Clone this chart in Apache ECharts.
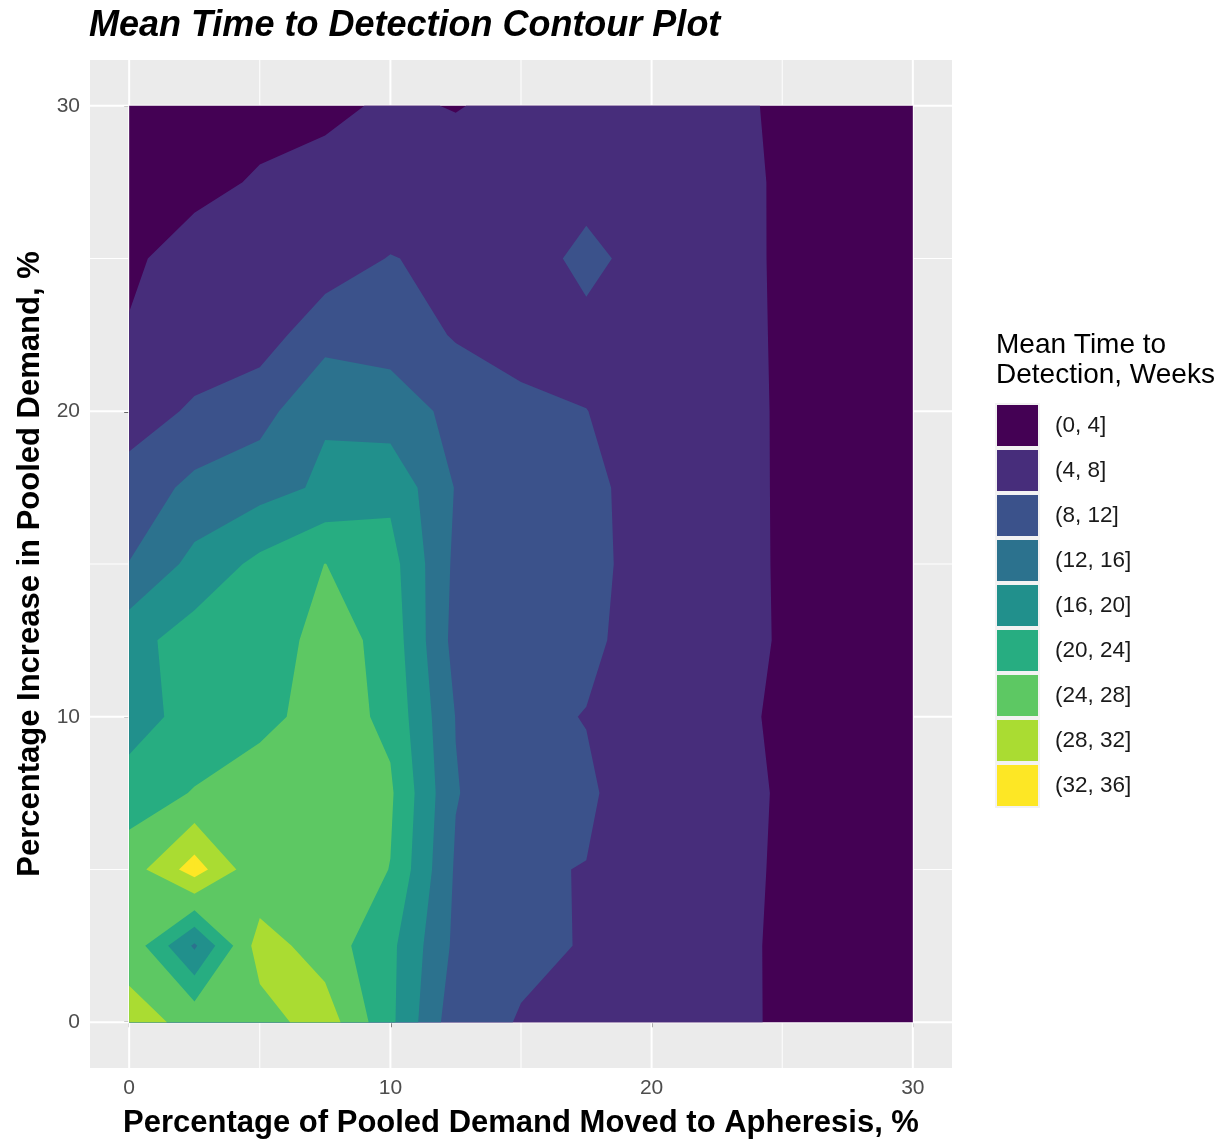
<!DOCTYPE html>
<html>
<head>
<meta charset="utf-8">
<script src="https://cdn.jsdelivr.net/npm/echarts@6/dist/echarts.min.js"></script>
<style>
html,body{margin:0;padding:0;background:#ffffff;}
#chart{width:1227px;height:1144px;}
</style>
</head>
<body>
<div id="chart"></div>
<script>
// Grid coordinates (percent)
const xValues = [0, 2.5, 5, 7.5, 10, 12.5, 15, 17.5, 20, 22.5, 25, 27.5, 30];
const yValues = [0, 2.5, 5, 7.5, 10, 12.5, 15, 17.5, 20, 22.5, 25, 27.5, 30];

// Mean time to detection (weeks), one array per y row, values along x
const z_y0    = [29.1, 27.2, 26.1, 30.2, 20.9, 9.4, 7.8, 7.0, 6.5, 6.5, 2.93, 2.6, 2.5];
const z_y2_5  = [26.8, 15.4, 29.9, 26.0, 21.0, 11.1, 8.6, 7.84, 6.5, 6.5, 2.9, 2.6, 2.5];
const z_y5    = [25.9, 33.9, 24.7, 27.0, 23.9, 11.5, 8.33, 7.9, 6.0, 6.5, 3.2, 2.7, 2.5];
const z_y7_5  = [22.25, 24.2, 26.7, 26.5, 24.6, 12.2, 9.3, 8.73, 5.1, 5.5, 3.65, 3.0, 2.8];
const z_y10   = [17.8, 21.9, 22.6, 26.0, 23.1, 11.9, 9.0, 7.85, 6.0, 6.0, 3.06, 2.8, 2.6];
const z_y12_5 = [18.6, 21.84, 20.6, 26.2, 22.4, 10.6, 9.5, 8.99, 5.9, 6.5, 3.52, 3.0, 2.7];
const z_y15   = [12.1, 17.19, 21.0, 24.05, 21.54, 11.14, 10.0, 9.45, 6.0, 6.5, 3.45, 3.0, 2.7];
const z_y17_5 = [9.5, 13.06, 14.5, 16.66, 19.0, 11.8, 9.5, 8.92, 6.5, 6.5, 3.42, 3.0, 2.7];
const z_y20   = [6.32, 8.5, 10.5, 15.6, 13.8, 11.07, 8.62, 8.05, 6.5, 6.5, 3.4, 3.0, 2.7];
const z_y22_5 = [4.43, 6.0, 6.16, 10.5, 10.5, 7.63, 7.0, 6.8, 6.5, 6.5, 3.3, 2.9, 2.6];
const z_y25   = [3.0, 6.5, 6.5, 5.84, 8.2, 6.85, 5.86, 9.2, 6.14, 6.5, 3.21, 2.9, 2.6];
const z_y27_5 = [2.0, 2.33, 4.6, 5.5, 4.6, 6.0, 6.0, 6.41, 6.5, 6.5, 3.2, 2.8, 2.5];
const z_y30   = [1.5, 1.8, 2.0, 3.05, 4.63, 3.8, 5.05, 6.0, 6.3, 6.5, 2.7, 2.5, 2.4];
const zRows = [z_y0, z_y2_5, z_y5, z_y7_5, z_y10, z_y12_5, z_y15, z_y17_5, z_y20, z_y22_5, z_y25, z_y27_5, z_y30];

// Bands
const bandBreaks = [0, 4, 8, 12, 16, 20, 24, 28, 32, 36];
const bandLabels = ['(0, 4]', '(4, 8]', '(8, 12]', '(12, 16]', '(16, 20]', '(20, 24]', '(24, 28]', '(28, 32]', '(32, 36]'];
const bandColors = ['#440154', '#472D7B', '#3B528B', '#2C728E', '#21908C', '#27AD81', '#5DC863', '#AADC32', '#FDE725'];

// Axis ticks
const majorTicks = [0, 10, 20, 30];
const minorTicks = [5, 15, 25];
const axisMin = -1.5, axisMax = 31.5;

// Region {z > t} as one path (marching squares, linear interpolation on cell edges)
function bandPath(api, t) {
  let d = '';
  const cross = (a, b) => {
    const f = (t - a[2]) / (b[2] - a[2]);
    return [a[0] + f * (b[0] - a[0]), a[1] + f * (b[1] - a[1])];
  };
  for (let j = 0; j < yValues.length - 1; j++) {
    for (let i = 0; i < xValues.length - 1; i++) {
      const c = [
        [xValues[i], yValues[j], zRows[j][i]],
        [xValues[i + 1], yValues[j], zRows[j][i + 1]],
        [xValues[i + 1], yValues[j + 1], zRows[j + 1][i + 1]],
        [xValues[i], yValues[j + 1], zRows[j + 1][i]]
      ];
      const above = c.map(p => p[2] > t);
      const n = above.filter(Boolean).length;
      if (n === 0) continue;
      const polys = [];
      const saddle = n === 2 && above[0] === above[2];
      const center = (c[0][2] + c[1][2] + c[2][2] + c[3][2]) / 4;
      if (saddle && center <= t) {
        for (let k = 0; k < 4; k++) {
          if (!above[k]) continue;
          const prev = c[(k + 3) % 4], next = c[(k + 1) % 4];
          polys.push([cross(prev, c[k]), [c[k][0], c[k][1]], cross(c[k], next)]);
        }
      } else {
        const pts = [];
        for (let k = 0; k < 4; k++) {
          const a = c[k], b = c[(k + 1) % 4];
          if (above[k]) pts.push([a[0], a[1]]);
          if (above[k] !== above[(k + 1) % 4]) pts.push(cross(a, b));
        }
        polys.push(pts);
      }
      for (const poly of polys) {
        poly.forEach((p, idx) => {
          const q = api.coord(p);
          d += (idx ? 'L' : 'M') + q[0].toFixed(2) + ' ' + q[1].toFixed(2);
        });
        d += 'Z';
      }
    }
  }
  return d;
}

const chart = echarts.init(document.getElementById('chart'), null, { renderer: 'canvas' });

const fontFamily = '"Liberation Sans", Arial, Helvetica, sans-serif';

const series = [];
// white gridlines
series.push({
  type: 'custom',
  name: 'grid',
  z: 1,
  silent: true,
  data: [[0, 0]],
  renderItem: function (params, api) {
    const children = [];
    const addLines = (vals, w) => {
      vals.forEach(v => {
        const a = api.coord([v, axisMin]), b = api.coord([v, axisMax]);
        children.push({ type: 'line', shape: { x1: a[0], y1: a[1], x2: b[0], y2: b[1] }, style: { stroke: '#ffffff', lineWidth: w } });
        const c = api.coord([axisMin, v]), e = api.coord([axisMax, v]);
        children.push({ type: 'line', shape: { x1: c[0], y1: c[1], x2: e[0], y2: e[1] }, style: { stroke: '#ffffff', lineWidth: w } });
      });
    };
    addLines(minorTicks, 1);
    addLines(majorTicks, 2);
    return { type: 'group', children: children };
  }
});

bandLabels.forEach((label, k) => {
  series.push({
    type: 'custom',
    name: label,
    z: 2,
    silent: true,
    itemStyle: { color: bandColors[k] },
    data: [[0, 0]],
    renderItem: function (params, api) {
      return {
        type: 'path',
        shape: { pathData: bandPath(api, bandBreaks[k]) },
        style: { fill: bandColors[k], stroke: null }
      };
    }
  });
});

const option = {
  backgroundColor: '#ffffff',
  animation: false,
  textStyle: { fontFamily: fontFamily },
  title: [
    {
      text: 'Mean Time to Detection Contour Plot',
      left: 89, top: 8, padding: 0,
      textStyle: { fontSize: 36, fontWeight: 'bold', fontStyle: 'italic', color: '#000000', fontFamily: fontFamily }
    },
    {
      text: 'Mean Time to\nDetection, Weeks',
      left: 996, top: 330, padding: 0,
      textStyle: { fontSize: 28, fontWeight: 'normal', color: '#000000', lineHeight: 30, fontFamily: fontFamily }
    }
  ],
  graphic: [
    { type: 'rect', left: 995, top: 403, shape: { width: 45, height: 405 }, style: { fill: '#F2F2F2' }, z: 0 }
  ],
  legend: {
    orient: 'vertical',
    left: 997, top: 405, padding: 0,
    itemWidth: 41, itemHeight: 41, itemGap: 4,
    icon: 'rect',
    selectedMode: false,
    data: bandLabels,
    textStyle: { fontSize: 22.5, color: '#1A1A1A', padding: [0, 0, 0, 12], fontFamily: fontFamily }
  },
  grid: {
    left: 90, top: 60, width: 862, height: 1015,
    show: true, backgroundColor: '#EBEBEB', borderWidth: 0
  },
  xAxis: {
    type: 'value', min: axisMin, max: axisMax,
    axisLine: { show: false },
    axisTick: { show: true, customValues: majorTicks, length: 5, lineStyle: { color: '#333333', width: 2 } },
    axisLabel: { customValues: majorTicks, fontSize: 21, color: '#4D4D4D', margin: 10, fontFamily: fontFamily },
    splitLine: { show: false },
    name: 'Percentage of Pooled Demand Moved to Apheresis, %',
    nameLocation: 'middle', nameGap: 40,
    nameTextStyle: { fontSize: 31, fontWeight: 'bold', color: '#000000', fontFamily: fontFamily }
  },
  yAxis: {
    type: 'value', min: axisMin, max: axisMax,
    axisLine: { show: false },
    axisTick: { show: true, customValues: majorTicks, length: 5, lineStyle: { color: '#333333', width: 2 } },
    axisLabel: { customValues: majorTicks, fontSize: 21, color: '#4D4D4D', margin: 10, fontFamily: fontFamily },
    splitLine: { show: false },
    name: 'Percentage Increase in Pooled Demand, %',
    nameLocation: 'middle', nameGap: 38, nameRotate: 90,
    nameTextStyle: { fontSize: 31, fontWeight: 'bold', color: '#000000', fontFamily: fontFamily }
  },
  series: series
};

chart.setOption(option);
</script>
</body>
</html>
